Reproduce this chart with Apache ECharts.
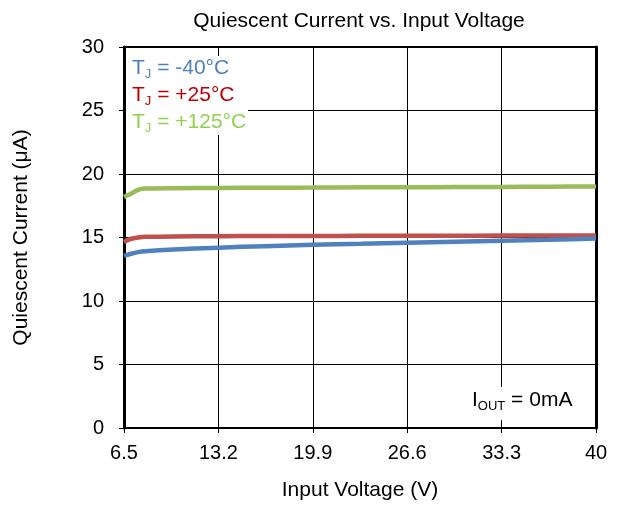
<!DOCTYPE html>
<html><head><meta charset="utf-8">
<script src="https://cdn.jsdelivr.net/npm/echarts@6/dist/echarts.min.js"></script>
<style>html,body{margin:0;padding:0;background:#fff}#c{width:618px;height:507px}</style>
</head><body><div id="c"></div>
<script>
const inputVoltage = [6.5, 7.0, 7.5, 8.0, 10, 13.2, 16.5, 19.9, 23.3, 26.6, 30, 33.3, 36.6, 40];
const iqMinus40 = [13.55, 13.72, 13.85, 13.92, 14.05, 14.2, 14.32, 14.42, 14.5, 14.58, 14.66, 14.74, 14.82, 14.92];
const iqPlus25 = [14.65, 14.9, 15.0, 15.05, 15.08, 15.1, 15.12, 15.12, 15.13, 15.13, 15.14, 15.15, 15.15, 15.16];
const iqPlus125 = [18.2, 18.45, 18.75, 18.85, 18.88, 18.9, 18.92, 18.93, 18.95, 18.95, 18.97, 18.98, 19.0, 19.02];
const xTickLabels = ['6.5', '13.2', '19.9', '26.6', '33.3', '40'];
const xStart = 6.5, xStep = 6.7;

const font = 'Liberation Sans, Arial, sans-serif';
const pair = ys => inputVoltage.map((x, i) => [x - xStart, ys[i]]);
const chart = echarts.init(document.getElementById('c'), null, {renderer: 'canvas'});
const sub = c => ({s: {fontSize: 13, fill: c, padding: [12, 0, 0, 0], fontFamily: font}});
chart.setOption({
  animation: false,
  textStyle: {fontFamily: font},
  title: {text: 'Quiescent Current vs. Input Voltage', left: 354, top: 6, textAlign: 'center',
    textStyle: {fontSize: 21, fontWeight: 'normal', color: '#000', fontFamily: font}},
  grid: {left: 124, right: 22, top: 47, bottom: 79, show: true, borderColor: '#000', borderWidth: 2},
  xAxis: {type: 'value', min: 0, max: xStep * 5, interval: xStep,
    name: 'Input Voltage (V)', nameLocation: 'middle', nameGap: 52,
    nameTextStyle: {fontSize: 21, color: '#000', fontFamily: font},
    axisLine: {show: true, lineStyle: {color: '#000', width: 2}},
    axisTick: {show: true, length: 5, lineStyle: {color: '#000'}},
    axisLabel: {fontSize: 20, color: '#000', margin: 15, fontFamily: font,
      formatter: v => xTickLabels[Math.round(v / xStep)]},
    splitLine: {show: true, lineStyle: {color: '#000', width: 1}}},
  yAxis: [{type: 'value', min: 0, max: 30, interval: 5,
    name: 'Quiescent Current (μA)', nameLocation: 'middle', nameGap: 92, nameRotate: 90,
    nameTextStyle: {fontSize: 21, color: '#000', fontFamily: font},
    axisLine: {show: true, lineStyle: {color: '#000', width: 3}},
    axisTick: {show: true, length: 5, lineStyle: {color: '#000'}},
    axisLabel: {fontSize: 20, color: '#000', margin: 20, fontFamily: font},
    splitLine: {show: true, lineStyle: {color: '#000', width: 1}}},
   {type: 'value', min: 0, max: 30, interval: 5, position: 'right',
    axisLine: {show: true, lineStyle: {color: '#000', width: 3}},
    axisTick: {show: false}, axisLabel: {show: false}, splitLine: {show: false}}],
  series: [
    {name: 'TJ = -40°C', type: 'line', data: pair(iqMinus40), showSymbol: false, smooth: 0.2,
      lineStyle: {color: '#4F81BD', width: 4.5}, itemStyle: {color: '#4F81BD'}, z: 3},
    {name: 'TJ = +25°C', type: 'line', data: pair(iqPlus25), showSymbol: false, smooth: 0.2,
      lineStyle: {color: '#C0504D', width: 4.5}, itemStyle: {color: '#C0504D'}, z: 2},
    {name: 'TJ = +125°C', type: 'line', data: pair(iqPlus125), showSymbol: false, smooth: 0.2,
      lineStyle: {color: '#9BBB59', width: 4.5}, itemStyle: {color: '#9BBB59'}, z: 2}
  ],
  graphic: [
    {type: 'rect', left: 126, top: 56, shape: {width: 122, height: 79}, style: {fill: '#fff'}, z: 10},
    {type: 'text', left: 132, top: 58, z: 11, style: {text: 'T{s|J} = -40°C', fill: '#4F81BD', font: '21px ' + font, rich: sub('#4F81BD')}},
    {type: 'text', left: 132, top: 85, z: 11, style: {text: 'T{s|J} = +25°C', fill: '#C00000', font: '21px ' + font, rich: sub('#C00000')}},
    {type: 'text', left: 132, top: 112, z: 11, style: {text: 'T{s|J} = +125°C', fill: '#92D050', font: '21px ' + font, rich: sub('#92D050')}},
    {type: 'rect', left: 462, top: 387, shape: {width: 130, height: 33}, style: {fill: '#fff'}, z: 10},
    {type: 'text', left: 472, top: 390, z: 11, style: {text: 'I{s|OUT} = 0mA', fill: '#000', font: '21px ' + font, rich: sub('#000')}}
  ]
});
</script></body></html>
